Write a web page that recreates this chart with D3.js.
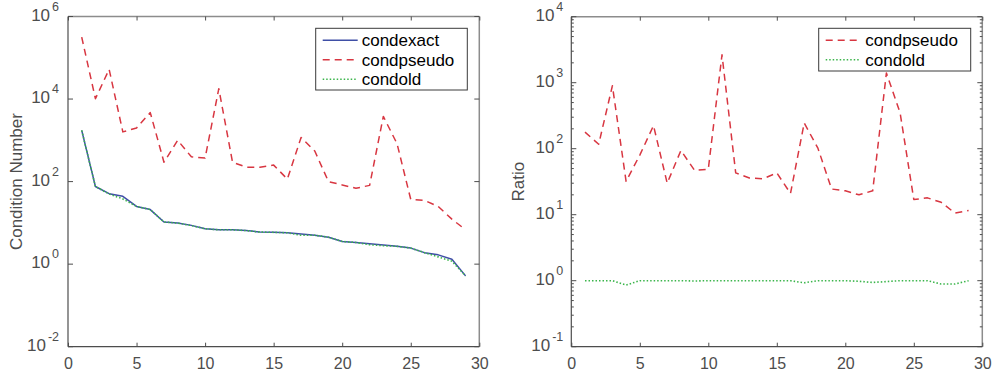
<!DOCTYPE html>
<html>
<head>
<meta charset="utf-8">
<script src="https://cdn.jsdelivr.net/npm/d3@7"></script>
<style>
  body { margin: 0; background: #fff; }
  svg { display: block; font-family: "Liberation Sans", Arial, Helvetica, sans-serif; }
</style>
</head>
<body>
<svg id="chart" width="992" height="373"></svg>
<script>
// values
const xIndex = [1, 2, 3, 4, 5, 6, 7, 8, 9, 10, 11, 12, 13, 14, 15, 16, 17, 18, 19, 20, 21, 22, 23, 24, 25, 26, 27, 28, 29];
const condexact = [1740, 76, 51, 44, 25, 21, 10.5, 9.9, 8.7, 7.2, 6.8, 6.8, 6.5, 6.0, 5.9, 5.75, 5.4, 5.0, 4.5, 3.55, 3.35, 3.1, 2.9, 2.7, 2.45, 1.9, 1.68, 1.32, 0.52];
const condpseudo = [316000, 10200, 52500, 1600, 1990, 4700, 295, 1000, 398, 372, 17800, 295, 224, 224, 251, 115, 1170, 550, 100, 83, 69, 81, 3800, 830, 37, 35, 25, 12.3, 6.8];
const condold = [1740, 76, 50, 38, 25, 21, 10.5, 9.9, 8.6, 7.2, 6.8, 6.8, 6.5, 6.0, 5.9, 5.75, 5.0, 5.0, 4.5, 3.55, 3.35, 2.95, 2.8, 2.7, 2.45, 1.9, 1.5, 1.18, 0.52];
const ratioPseudo = [178, 117, 900, 32, 80, 224, 30, 94, 47, 49, 2650, 43, 36, 35, 43, 21, 245, 102, 24.5, 23, 20, 23, 1400, 350, 17, 18, 15.4, 10.6, 11.6];
const ratioOld = [1.0, 1.0, 1.0, 0.86, 1.0, 1.0, 1.0, 1.0, 0.99, 1.0, 1.0, 1.0, 1.0, 1.0, 1.0, 1.0, 0.93, 1.0, 1.0, 1.0, 0.98, 0.94, 0.97, 1.0, 1.0, 1.0, 0.89, 0.89, 1.0];

const xTicks = [0, 5, 10, 15, 20, 25, 30];
const leftExponents = [-2, 0, 2, 4, 6];
const rightExponents = [-1, 0, 1, 2, 3, 4];

const styles = {
  condexact: { color: '#3f4fa6', dash: null, width: 1.5 },
  condpseudo: { color: '#d83641', dash: '7,5', width: 1.5 },
  condold: { color: '#3bb54b', dash: '1.5,2', width: 1.6 }
};

const svg = d3.select('#chart');
const axisDark = '#4d4d4d';
const axisLight = '#8c8c8c';
const labelColor = '#4d4d4d';

function drawPanel(cfg) {
  const x = d3.scaleLinear().domain([0, 30]).range([cfg.left, cfg.right]);
  const y = d3.scaleLog().domain(cfg.yDomain).range([cfg.bottom, cfg.top]);
  const g = svg.append('g');

  // box
  g.append('line').attr('x1', cfg.left).attr('x2', cfg.right).attr('y1', cfg.top).attr('y2', cfg.top)
    .attr('stroke', axisLight).attr('stroke-width', 1.5);
  g.append('line').attr('x1', cfg.right).attr('x2', cfg.right).attr('y1', cfg.top).attr('y2', cfg.bottom)
    .attr('stroke', axisLight).attr('stroke-width', 1.5);
  g.append('line').attr('x1', cfg.left).attr('x2', cfg.right).attr('y1', cfg.bottom).attr('y2', cfg.bottom)
    .attr('stroke', axisDark).attr('stroke-width', 1.2);
  g.append('line').attr('x1', cfg.left).attr('x2', cfg.left).attr('y1', cfg.top).attr('y2', cfg.bottom)
    .attr('stroke', axisDark).attr('stroke-width', 1.2);

  // x ticks (inside, top and bottom)
  const bottomAxis = g.append('g')
    .attr('transform', `translate(0, ${cfg.bottom})`)
    .call(d3.axisBottom(x).tickValues(xTicks).tickSizeInner(-4).tickSizeOuter(0).tickPadding(10));
  bottomAxis.select('.domain').remove();
  bottomAxis.selectAll('line').attr('stroke', axisDark);
  bottomAxis.selectAll('text')
    .attr('fill', labelColor)
    .style('font-size', '16px')
    .attr('y', 22)
    .attr('dy', 0);

  const topAxis = g.append('g')
    .attr('transform', `translate(0, ${cfg.top})`)
    .call(d3.axisTop(x).tickValues(xTicks).tickSizeInner(-4).tickSizeOuter(0).tickFormat(''));
  topAxis.select('.domain').remove();
  topAxis.selectAll('line').attr('stroke', axisDark);

  // y ticks
  const majorValues = cfg.tickExponents.map((e) => Math.pow(10, e));
  const minorValues = [];
  if (cfg.minor) {
    for (let e = cfg.tickExponents[0]; e < cfg.tickExponents[cfg.tickExponents.length - 1]; e++) {
      for (let k = 2; k <= 9; k++) minorValues.push(k * Math.pow(10, e));
    }
  }
  [[cfg.left, 1], [cfg.right, -1]].forEach(([ax, dir]) => {
    g.append('g').selectAll('line.major')
      .data(majorValues)
      .join('line')
      .attr('x1', ax).attr('x2', ax + dir * 5)
      .attr('y1', (v) => y(v)).attr('y2', (v) => y(v))
      .attr('stroke', axisDark);
    g.append('g').selectAll('line.minor')
      .data(minorValues)
      .join('line')
      .attr('x1', ax).attr('x2', ax + dir * 2.5)
      .attr('y1', (v) => y(v)).attr('y2', (v) => y(v))
      .attr('stroke', axisDark);
  });

  // y tick labels 10^e
  const labels = g.append('g').selectAll('text')
    .data(cfg.tickExponents)
    .join('text')
    .attr('x', cfg.left - cfg.labelGap)
    .attr('y', (e) => y(Math.pow(10, e)) + 4)
    .attr('text-anchor', 'end')
    .attr('fill', labelColor)
    .style('font-size', '17px');
  labels.append('tspan').text('10');
  labels.append('tspan')
    .attr('dx', 2)
    .attr('dy', -10)
    .style('font-size', '12.5px')
    .text((e) => e);

  // y label
  g.append('text')
    .attr('transform', `translate(${cfg.yLabelX}, ${(cfg.top + cfg.bottom) / 2}) rotate(-90)`)
    .attr('text-anchor', 'middle')
    .attr('fill', labelColor)
    .style('font-size', '17px')
    .text(cfg.yLabel);

  // series
  const line = d3.line()
    .x((d) => x(d[0]))
    .y((d) => y(d[1]));
  cfg.series.forEach((s) => {
    const st = styles[s.name];
    g.append('path')
      .datum(xIndex.map((xi, i) => [xi, s.values[i]]))
      .attr('fill', 'none')
      .attr('stroke', st.color)
      .attr('stroke-width', st.width)
      .attr('stroke-dasharray', st.dash)
      .attr('stroke-linejoin', 'round')
      .attr('d', line);
  });

  // legend
  const lg = g.append('g');
  lg.append('rect')
    .attr('x', cfg.legend.x).attr('y', cfg.legend.y)
    .attr('width', cfg.legend.w).attr('height', cfg.legend.h)
    .attr('fill', '#fff').attr('stroke', '#3a3a3a').attr('stroke-width', 1);
  cfg.series.forEach((s, i) => {
    const st = styles[s.name];
    const ry = cfg.legend.y + 12 + i * 19.5;
    lg.append('line')
      .attr('x1', cfg.legend.x + 7).attr('x2', cfg.legend.x + 7 + cfg.legend.sample)
      .attr('y1', ry).attr('y2', ry)
      .attr('stroke', st.color)
      .attr('stroke-width', st.width)
      .attr('stroke-dasharray', st.dash);
    lg.append('text')
      .attr('x', cfg.legend.x + cfg.legend.textOffset)
      .attr('y', ry + 6)
      .attr('fill', '#000')
      .style('font-size', '17px')
      .text(s.name);
  });
}

drawPanel({
  left: 68, right: 479.3, top: 16.5, bottom: 346.7,
  yDomain: [1e-2, 1e6],
  tickExponents: leftExponents,
  minor: false,
  labelGap: 9,
  yLabel: 'Condition Number',
  yLabelX: 22,
  series: [
    { name: 'condexact', values: condexact },
    { name: 'condpseudo', values: condpseudo },
    { name: 'condold', values: condold }
  ],
  legend: { x: 315.7, y: 28.3, w: 151.6, h: 61.7, sample: 35, textOffset: 46 }
});

drawPanel({
  left: 571.3, right: 982.3, top: 16.7, bottom: 346.7,
  yDomain: [1e-1, 1e4],
  tickExponents: rightExponents,
  minor: true,
  labelGap: 8,
  yLabel: 'Ratio',
  yLabelX: 524,
  series: [
    { name: 'condpseudo', values: ratioPseudo },
    { name: 'condold', values: ratioOld }
  ],
  legend: { x: 818.7, y: 28.3, w: 152, h: 42.7, sample: 34, textOffset: 46.6 }
});
</script>
</body>
</html>
